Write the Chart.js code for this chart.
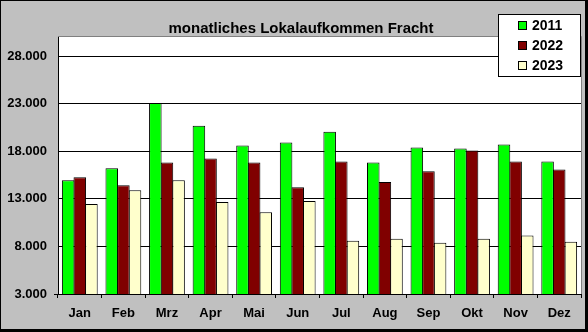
<!DOCTYPE html>
<html>
<head>
<meta charset="utf-8">
<script src="https://cdn.jsdelivr.net/npm/chart.js@4/dist/chart.umd.min.js"></script>
<style>
  html, body { margin: 0; padding: 0; background: #000; }
  #wrap { position: absolute; left: 1px; top: 1px; width: 584px; height: 328px; }
</style>
</head>
<body>
<div id="wrap"><canvas id="myChart" width="584" height="328"></canvas></div>
<script>
const titel = 'monatliches Lokalaufkommen Fracht';
const monate = ['Jan', 'Feb', 'Mrz', 'Apr', 'Mai', 'Jun', 'Jul', 'Aug', 'Sep', 'Okt', 'Nov', 'Dez'];
const werte2011 = [14950, 16200, 23070, 20680, 18590, 18910, 20050, 16820, 18390, 18280, 18700, 16930];
const werte2022 = [15260, 14430, 16820, 17240, 16820, 14220, 16930, 14770, 15890, 18070, 16930, 16090];
const werte2023 = [12450, 13900, 14950, 12660, 11600, 12760, 8590, 8800, 8390, 8800, 9150, 8490];
const yMin = 3000, yMax = 30000, yStep = 5000;

const schrift = '"Liberation Sans", Arial, sans-serif';

// grauer Hintergrund, weisse Zeichenflaeche
const hintergrund = {
    id: 'hintergrund',
    beforeDraw(chart) {
        const {ctx, chartArea: a} = chart;
        ctx.save();
        ctx.fillStyle = '#c0c0c0';
        ctx.fillRect(0, 0, chart.width, chart.height);
        ctx.fillStyle = '#fff';
        ctx.fillRect(a.left, a.top, a.right - a.left, a.bottom - a.top);
        ctx.restore();
    }
};

// Titel, Rahmen oben/rechts und Legende im Diagramm
const extras = {
    id: 'extras',
    afterDraw(chart) {
        const {ctx, chartArea: a} = chart;
        ctx.save();
        ctx.strokeStyle = '#808080';
        ctx.lineWidth = 1;
        ctx.beginPath();
        ctx.moveTo(a.left, a.top - 0.5);
        ctx.lineTo(a.right + 0.5, a.top - 0.5);
        ctx.lineTo(a.right + 0.5, a.bottom);
        ctx.stroke();

        ctx.fillStyle = '#000';
        ctx.font = 'bold 15px ' + schrift;
        ctx.textAlign = 'center';
        ctx.textBaseline = 'alphabetic';
        ctx.fillText(titel, 300, 32);

        // Legende
        const bx = 497, by = 13, bw = 83, bh = 63;
        ctx.fillStyle = '#fff';
        ctx.fillRect(bx, by, bw, bh);
        ctx.strokeStyle = '#000';
        ctx.strokeRect(bx + 0.5, by + 0.5, bw - 1, bh - 1);
        ctx.font = 'bold 14px ' + schrift;
        ctx.textAlign = 'left';
        ctx.textBaseline = 'middle';
        chart.data.datasets.forEach((ds, i) => {
            const cy = 24 + i * 20;
            ctx.fillStyle = ds.backgroundColor;
            ctx.fillRect(517, cy - 4, 8, 8);
            ctx.strokeStyle = '#000';
            ctx.strokeRect(517.5, cy - 3.5, 8, 8);
            ctx.fillStyle = '#000';
            ctx.fillText(ds.label, 531, cy + 1);
        });
        ctx.restore();
    }
};

const ctx = document.getElementById('myChart').getContext('2d');
new Chart(ctx, {
    type: 'bar',
    data: {
        labels: monate,
        datasets: [
            {label: '2011', data: werte2011, backgroundColor: '#00ff00'},
            {label: '2022', data: werte2022, backgroundColor: '#800000'},
            {label: '2023', data: werte2023, backgroundColor: '#ffffcc'}
        ]
    },
    options: {
        responsive: false,
        animation: false,
        devicePixelRatio: 1,
        layout: {padding: {left: 0, top: 36, right: 4, bottom: 0}},
        datasets: {
            bar: {
                categoryPercentage: 0.8,
                barPercentage: 1.08,
                borderColor: '#000',
                borderWidth: 1
            }
        },
        plugins: {
            legend: {display: false},
            title: {display: false},
            tooltip: {enabled: false}
        },
        scales: {
            x: {
                afterFit(scale) { scale.height = 35; },
                grid: {
                    offset: true,
                    drawOnChartArea: false,
                    drawTicks: true,
                    tickLength: 4,
                    color: '#000'
                },
                border: {color: '#000', width: 1},
                ticks: {
                    color: '#000',
                    padding: 8,
                    font: {family: schrift, size: 13, weight: 'bold'}
                }
            },
            y: {
                min: yMin,
                max: yMax,
                afterFit(scale) { scale.width = 57; },
                // Teilstriche ab 3.000 in 5.000er Schritten
                afterBuildTicks(scale) {
                    const t = [];
                    for (let v = yMin; v <= yMax; v += yStep) t.push({value: v});
                    scale.ticks = t;
                },
                grid: {
                    color: '#000',
                    drawTicks: true,
                    tickLength: 4,
                    tickColor: c => c.index === 0 ? '#000' : 'rgba(0,0,0,0)'
                },
                border: {color: '#000', width: 1},
                ticks: {
                    color: '#000',
                    padding: 7,
                    font: {family: schrift, size: 13, weight: 'bold'},
                    callback: v => (v / 1000).toFixed(3)
                }
            }
        }
    },
    plugins: [hintergrund, extras]
});
</script>
</body>
</html>
